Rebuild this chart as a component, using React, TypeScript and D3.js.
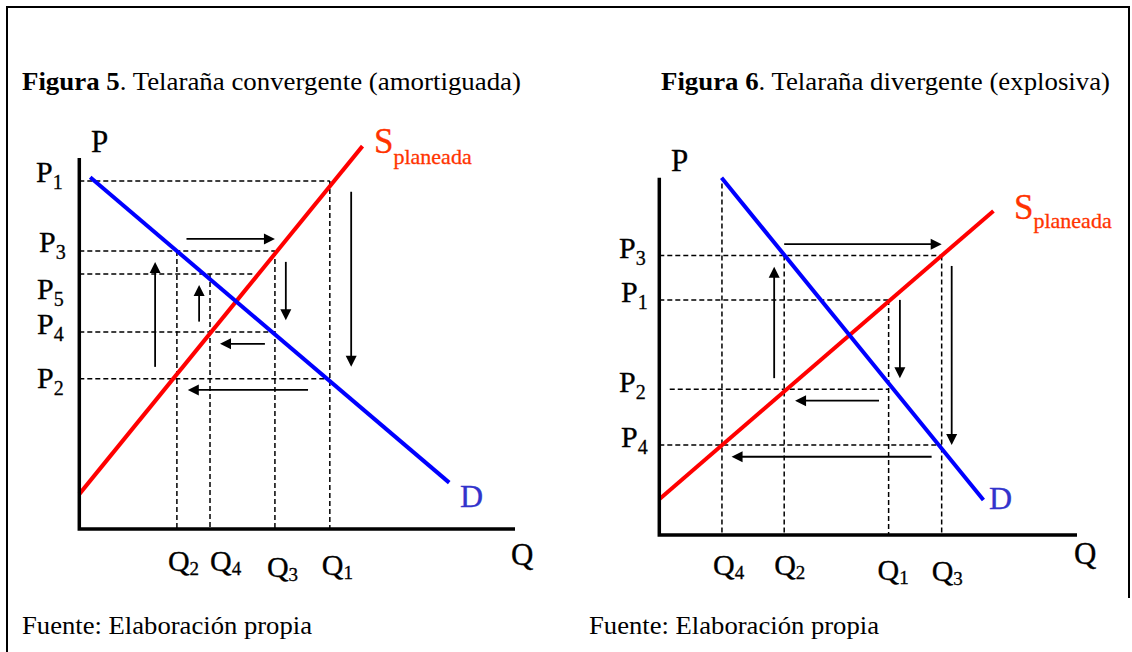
import React from "react";
import * as d3 from "d3";

// ---------- Figure 5 (convergent cobweb) data ----------
const f5QNames = ["2", "4", "3", "1"];
const f5QValues = [22.4, 30.0, 44.9, 57.5];
const f5PNames = ["1", "3", "5", "4", "2"];
const f5PValues = [93.8, 74.9, 68.7, 53.1, 40.5];
const f5Demand: [number, number][] = [[2.5, 94.8], [84.9, 12.5]];
const f5Supply: [number, number][] = [[0, 9.4], [65.0, 103.2]];
// horizontal guides: [price, quantity end]
const f5HGuides: [number, number][] = [[93.8, 57.5], [74.9, 44.9], [68.7, 40.3], [53.1, 44.9], [40.5, 57.5]];
// vertical guides: [quantity, price top]
const f5VGuides: [number, number][] = [[22.4, 74.9], [30.0, 68.7], [44.9, 74.9], [57.5, 93.8]];
// arrows: [q1, p1, q2, p2]
const f5Arrows: [number, number, number, number][] = [
  [24.6, 78.2, 44.9, 78.2],
  [17.4, 43.7, 17.4, 72.0],
  [27.5, 55.9, 27.5, 65.8],
  [47.4, 72.0, 47.4, 56.3],
  [42.6, 49.9, 32.3, 49.9],
  [62.4, 90.9, 62.4, 43.7],
  [52.5, 37.5, 24.9, 37.5],
];

// ---------- Figure 6 (divergent cobweb) data ----------
const f6QNames = ["4", "2", "1", "3"];
const f6QValues = [15.0, 29.9, 54.9, 67.6];
const f6PNames = ["3", "1", "2", "4"];
const f6PValues = [78.2, 65.8, 40.8, 25.2];
const f6Demand: [number, number][] = [[14.9, 100], [77.6, 9.8]];
const f6Supply: [number, number][] = [[0, 10.0], [80.0, 90.7]];
// horizontal guides: [price, quantity start, quantity end]
const f6HGuides: [number, number, number][] = [[78.2, 0, 67.6], [65.8, 0, 54.9], [40.8, 2.5, 54.9], [25.2, 0, 67.6]];
const f6VGuides: [number, number][] = [[15.0, 98.4], [29.9, 78.2], [54.9, 65.8], [67.6, 78.2]];
const f6Arrows: [number, number, number, number][] = [
  [29.9, 81.4, 67.6, 81.4],
  [27.5, 43.9, 27.5, 75.1],
  [57.6, 65.8, 57.6, 43.9],
  [52.6, 37.6, 32.5, 37.6],
  [70.0, 75.3, 70.0, 25.2],
  [65.2, 21.9, 17.3, 21.9],
];

const SERIF = "'Liberation Serif', 'Times New Roman', Times, serif";
const RED = "#ff0000";
const BLUE = "#0000ff";
const S_COLOR = "#ff3300";
const D_COLOR = "#3333cc";

type Panel = {
  x: d3.ScaleLinear<number, number>;
  y: d3.ScaleLinear<number, number>;
};

function Arrow({ p, a }: { p: Panel; a: [number, number, number, number] }) {
  const x1 = p.x(a[0]), y1 = p.y(a[1]), x2 = p.x(a[2]), y2 = p.y(a[3]);
  const len = Math.hypot(x2 - x1, y2 - y1);
  const ux = (x2 - x1) / len, uy = (y2 - y1) / len;
  const head = 11, half = 5.5;
  const bx = x2 - ux * head, by = y2 - uy * head;
  return (
    <g>
      <line x1={x1} y1={y1} x2={bx + ux * 2} y2={by + uy * 2} stroke="#000" strokeWidth={1.8} />
      <path
        d={`M${x2},${y2}L${bx - uy * half},${by + ux * half}L${bx + uy * half},${by - ux * half}Z`}
        fill="#000"
      />
    </g>
  );
}

function Sub({ x, y, main, sub, size = 30, subSize = 20, dy = 7 }: any) {
  return (
    <text x={x} y={y} fontFamily={SERIF} fontSize={size} fill="#000" stroke="#000" strokeWidth={0.3}>
      {main}
      <tspan fontSize={subSize} dy={dy}>{sub}</tspan>
    </text>
  );
}

export default function App() {
  // Figure 5 scales
  const p5: Panel = {
    x: d3.scaleLinear().domain([0, 100]).range([79.3, 515]),
    y: d3.scaleLinear().domain([0, 100]).range([529, 158]),
  };
  // Figure 6 scales
  const p6: Panel = {
    x: d3.scaleLinear().domain([0, 100]).range([659.3, 1077]),
    y: d3.scaleLinear().domain([0, 100]).range([535, 177.7]),
  };

  const line = (p: Panel) =>
    d3.line<[number, number]>().x((d) => p.x(d[0])).y((d) => p.y(d[1]));

  const dash = "5,3";

  // label offsets (layout only)
  const f5PLabelX = [36, 39, 37, 37, 37];
  const f5PLabelDy = [1, 1, 25, 2, 9];
  const f5QLabelDx = [-9, 0, -8, -8];
  const f5QLabelY = [571, 571, 577, 575];

  const f6PLabelX = [619, 621, 619, 621];
  const f6QLabelDx = [-9, -10, -11, -10];
  const f6QLabelY = [575, 575, 580, 581];

  const big = { fontFamily: SERIF, fontSize: 31, fill: "#000", stroke: "#000", strokeWidth: 0.3 };

  return (
    <div style={{ position: "absolute", left: 0, top: 0 }}>
      <svg width={1132} height={652} style={{ display: "block", background: "#fff" }}>
        {/* frame */}
        <path d="M7,652V7H1129V598" fill="none" stroke="#000" strokeWidth={2} />

        {/* titles */}
        <text x={22} y={90} fontFamily={SERIF} fontSize={26} fill="#000" textLength={499} lengthAdjust="spacingAndGlyphs">
          <tspan fontWeight="bold">Figura 5</tspan>. Telaraña convergente (amortiguada)
        </text>
        <text x={661} y={90} fontFamily={SERIF} fontSize={26} fill="#000" textLength={449} lengthAdjust="spacingAndGlyphs">
          <tspan fontWeight="bold">Figura 6</tspan>. Telaraña divergente (explosiva)
        </text>

        {/* sources */}
        <text x={22} y={634} fontFamily={SERIF} fontSize={26} fill="#000" textLength={290} lengthAdjust="spacingAndGlyphs">
          Fuente: Elaboración propia
        </text>
        <text x={589} y={634} fontFamily={SERIF} fontSize={26} fill="#000" textLength={290} lengthAdjust="spacingAndGlyphs">
          Fuente: Elaboración propia
        </text>

        {/* ================= Figure 5 ================= */}
        <g>
          {f5HGuides.map((g, i) => (
            <line key={"h" + i} x1={p5.x(0)} y1={p5.y(g[0])} x2={p5.x(g[1])} y2={p5.y(g[0])}
              stroke="#000" strokeWidth={1.5} strokeDasharray={dash} />
          ))}
          {f5VGuides.map((g, i) => (
            <line key={"v" + i} x1={p5.x(g[0])} y1={p5.y(g[1])} x2={p5.x(g[0])} y2={p5.y(0)}
              stroke="#000" strokeWidth={1.5} strokeDasharray={dash} />
          ))}
          <path d={line(p5)(f5Supply) || ""} stroke={RED} strokeWidth={4} fill="none" />
          <path d={line(p5)(f5Demand) || ""} stroke={BLUE} strokeWidth={4} fill="none" />
          {f5Arrows.map((a, i) => <Arrow key={"a" + i} p={p5} a={a} />)}
          <path d={`M${p5.x(0)},${p5.y(100)}V${p5.y(0)}H${p5.x(100)}`} fill="none" stroke="#000" strokeWidth={3.5} />

          <text x={91} y={152} {...big}>P</text>
          <text x={511} y={565} {...big}>Q</text>
          {f5PValues.map((v, i) => (
            <Sub key={"pl" + i} x={f5PLabelX[i]} y={p5.y(v) + f5PLabelDy[i]} main="P" sub={f5PNames[i]} />
          ))}
          {f5QValues.map((v, i) => (
            <Sub key={"ql" + i} x={p5.x(v) + f5QLabelDx[i]} y={f5QLabelY[i]} main="Q" sub={f5QNames[i]} dy={4} subSize={19} />
          ))}
          <text x={374} y={153} fontFamily={SERIF} fontSize={35} fill={S_COLOR} stroke={S_COLOR} strokeWidth={0.3}>
            S<tspan fontSize={22} dy={11}>planeada</tspan>
          </text>
          <text x={460} y={507} fontFamily={SERIF} fontSize={32} fill={D_COLOR} stroke={D_COLOR} strokeWidth={0.3}>D</text>
        </g>

        {/* ================= Figure 6 ================= */}
        <g>
          {f6HGuides.map((g, i) => (
            <line key={"h" + i} x1={p6.x(g[1])} y1={p6.y(g[0])} x2={p6.x(g[2])} y2={p6.y(g[0])}
              stroke="#000" strokeWidth={1.5} strokeDasharray={dash} />
          ))}
          {f6VGuides.map((g, i) => (
            <line key={"v" + i} x1={p6.x(g[0])} y1={p6.y(g[1])} x2={p6.x(g[0])} y2={p6.y(0)}
              stroke="#000" strokeWidth={1.5} strokeDasharray={dash} />
          ))}
          <path d={line(p6)(f6Supply) || ""} stroke={RED} strokeWidth={4} fill="none" />
          <path d={line(p6)(f6Demand) || ""} stroke={BLUE} strokeWidth={4} fill="none" />
          {f6Arrows.map((a, i) => <Arrow key={"a" + i} p={p6} a={a} />)}
          <path d={`M${p6.x(0)},${p6.y(100)}V${p6.y(0)}H${p6.x(100)}`} fill="none" stroke="#000" strokeWidth={3.5} />

          <text x={671} y={171} {...big}>P</text>
          <text x={1074} y={564} {...big}>Q</text>
          {f6PValues.map((v, i) => (
            <Sub key={"pl" + i} x={f6PLabelX[i]} y={p6.y(v) + 2.5} main="P" sub={f6PNames[i]} />
          ))}
          {f6QValues.map((v, i) => (
            <Sub key={"ql" + i} x={p6.x(v) + f6QLabelDx[i]} y={f6QLabelY[i]} main="Q" sub={f6QNames[i]} dy={4} subSize={19} />
          ))}
          <text x={1014} y={219} fontFamily={SERIF} fontSize={35} fill={S_COLOR} stroke={S_COLOR} strokeWidth={0.3}>
            S<tspan fontSize={22} dy={9}>planeada</tspan>
          </text>
          <text x={989} y={509} fontFamily={SERIF} fontSize={32} fill={D_COLOR} stroke={D_COLOR} strokeWidth={0.3}>D</text>
        </g>
      </svg>
    </div>
  );
}
